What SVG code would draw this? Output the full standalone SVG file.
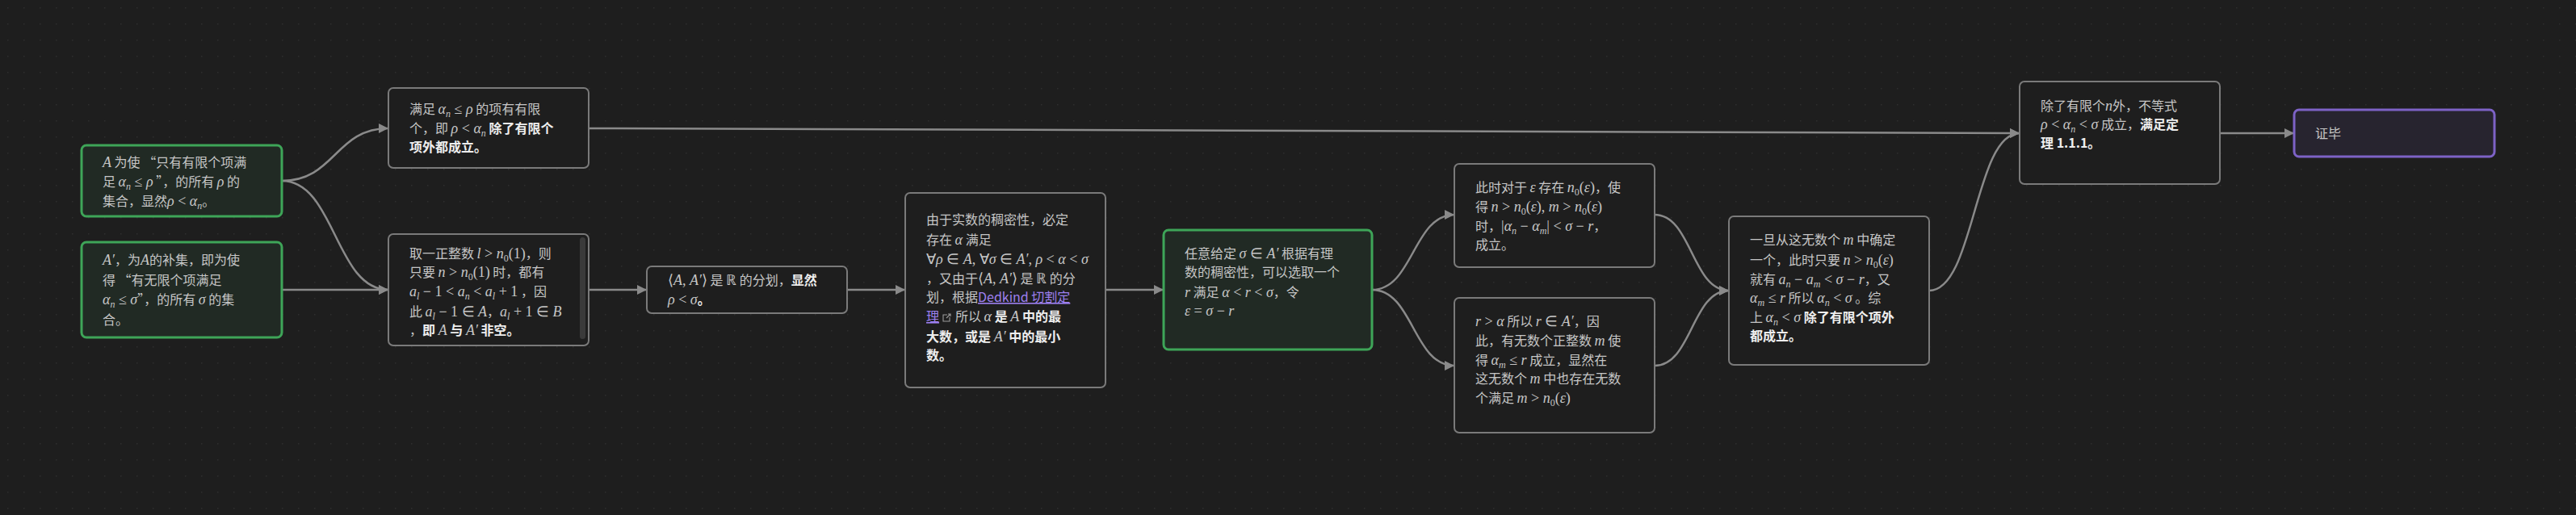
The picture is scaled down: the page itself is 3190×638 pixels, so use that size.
<svg xmlns="http://www.w3.org/2000/svg" width="3190" height="638" viewBox="0 0 3190 638">
<defs>
<pattern id="grid" width="20" height="20" patternUnits="userSpaceOnUse">
<rect x="9" y="9" width="1.5" height="1.5" fill="#2e2e2e"/>
</pattern>
<marker id="arr" viewBox="0 0 10 10" refX="10" refY="5" markerWidth="5" markerHeight="5" orient="auto" markerUnits="strokeWidth">
<path d="M0,0 L10,5 L0,10 z" fill="#8a8a8a"/>
</marker>
<style>
.bg{fill:#1e1e1e}
.n{fill:#1e1e1e;stroke:#7a7a7a;stroke-width:2}
.g{fill:#212a24;stroke:#3ea558;stroke-width:3}
.p{fill:#27242f;stroke:#7d62c6;stroke-width:3}
.e{fill:none;stroke:#8a8a8a;stroke-width:2.5;marker-end:url(#arr)}
.t{font-family:"Noto Sans CJK SC","Noto Sans",sans-serif;font-size:16px;fill:#c6c6c6}
.b{font-weight:bold;fill:#eeeeee}
.m{font-family:"Liberation Serif",serif;font-style:italic;font-size:18px}
.r{font-family:"Liberation Serif",serif;font-style:normal;font-size:18px}
.s{font-family:"Liberation Serif",serif;font-style:italic;font-size:12px}
.s0{font-family:"Liberation Serif",serif;font-style:normal;font-size:12px}
.lk{fill:#9d80f0;text-decoration:underline}
</style>
</defs>
<rect class="bg" x="0" y="0" width="3190" height="638"/>
<rect x="0" y="0" width="3190" height="638" fill="url(#grid)"/>

<g id="connectors">
<path class="e" d="M349,224 C415,224 415,159 481,159"/>
<path class="e" d="M349,224 C415,224 415,359 481,359"/>
<path class="e" d="M349,359 L481,359"/>
<path class="e" d="M729,159 C1615,159 1615,165 2501,165"/>
<path class="e" d="M729,359 L801,359"/>
<path class="e" d="M1049,359 L1121,359"/>
<path class="e" d="M1369,359 L1441,359"/>
<path class="e" d="M1699,359 C1750,359 1750,266 1801,266"/>
<path class="e" d="M1699,359 C1750,359 1750,453 1801,453"/>
<path class="e" d="M2049,266 C2095,266 2095,360 2141,360"/>
<path class="e" d="M2049,453 C2095,453 2095,360 2141,360"/>
<path class="e" d="M2389,360 C2445,360 2445,165 2501,165"/>
<path class="e" d="M2749,165 L2841,165"/>
</g>

<g id="n1">
<rect class="g" x="101" y="180" width="248" height="88" rx="6"/>
<text class="t" x="127" y="207"><tspan class="m">A</tspan> 为使 “只有有限个项满</text>
<text class="t" x="127" y="231">足 <tspan class="m">α</tspan><tspan class="s" dy="4">n</tspan><tspan class="r" dy="-4"> ≤ </tspan><tspan class="m">ρ</tspan> ”，的所有 <tspan class="m">ρ</tspan> 的</text>
<text class="t" x="127" y="255">集合，显然<tspan class="m">ρ</tspan><tspan class="r"> &lt; </tspan><tspan class="m">α</tspan><tspan class="s" dy="4">n</tspan><tspan dy="-4">。</tspan></text>
</g>

<g id="n2">
<rect class="g" x="101" y="300" width="248" height="118" rx="6"/>
<text class="t" x="127" y="328"><tspan class="m">A′</tspan>，为<tspan class="m">A</tspan>的补集，即为使</text>
<text class="t" x="127" y="353">得 “有无限个项满足</text>
<text class="t" x="127" y="377"><tspan class="m">α</tspan><tspan class="s" dy="4">n</tspan><tspan class="r" dy="-4"> ≤ </tspan><tspan class="m">σ</tspan>”，的所有 <tspan class="m">σ</tspan> 的集</text>
<text class="t" x="127" y="402">合。</text>
</g>

<g id="n3">
<rect class="n" x="481" y="109" width="248" height="99" rx="6"/>
<text class="t" x="507" y="141">满足 <tspan class="m">α</tspan><tspan class="s" dy="4">n</tspan><tspan class="r" dy="-4"> ≤ </tspan><tspan class="m">ρ</tspan> 的项有有限</text>
<text class="t" x="507" y="165">个，即 <tspan class="m">ρ</tspan><tspan class="r"> &lt; </tspan><tspan class="m">α</tspan><tspan class="s" dy="4">n</tspan><tspan class="b" dy="-4"> 除了有限个</tspan></text>
<text class="t b" x="507" y="188">项外都成立。</text>
</g>

<g id="n4">
<rect class="n" x="481" y="290" width="248" height="138" rx="6"/>
<rect x="718" y="294" width="7" height="126" rx="3.5" fill="#3a3a3a"/>
<text class="t" x="507" y="320">取一正整数 <tspan class="m">l</tspan><tspan class="r"> &gt; </tspan><tspan class="m">n</tspan><tspan class="s0" dy="4">0</tspan><tspan class="r" dy="-4">(1)</tspan>，则</text>
<text class="t" x="507" y="343">只要 <tspan class="m">n</tspan><tspan class="r"> &gt; </tspan><tspan class="m">n</tspan><tspan class="s0" dy="4">0</tspan><tspan class="r" dy="-4">(1)</tspan> 时，都有</text>
<text class="t" x="507" y="367"><tspan class="m">a</tspan><tspan class="s" dy="4">l</tspan><tspan class="r" dy="-4"> − 1 &lt; </tspan><tspan class="m">a</tspan><tspan class="s" dy="4">n</tspan><tspan class="r" dy="-4"> &lt; </tspan><tspan class="m">a</tspan><tspan class="s" dy="4">l</tspan><tspan class="r" dy="-4"> + 1</tspan> ，因</text>
<text class="t" x="507" y="392">此 <tspan class="m">a</tspan><tspan class="s" dy="4">l</tspan><tspan class="r" dy="-4"> − 1 ∈ </tspan><tspan class="m">A</tspan>，<tspan class="m">a</tspan><tspan class="s" dy="4">l</tspan><tspan class="r" dy="-4"> + 1 ∈ </tspan><tspan class="m">B</tspan></text>
<text class="t" x="507" y="415">，<tspan class="b">即 </tspan><tspan class="m">A</tspan><tspan class="b"> 与 </tspan><tspan class="m">A′</tspan><tspan class="b"> 非空。</tspan></text>
</g>

<g id="n5">
<rect class="n" x="801" y="330" width="248" height="58" rx="6"/>
<text class="t" x="827" y="353"><tspan class="r">⟨</tspan><tspan class="m">A</tspan><tspan class="r">, </tspan><tspan class="m">A′</tspan><tspan class="r">⟩</tspan> 是 <tspan class="r">ℝ</tspan> 的分划，<tspan class="b">显然</tspan></text>
<text class="t" x="827" y="377"><tspan class="m">ρ</tspan><tspan class="r"> &lt; </tspan><tspan class="m">σ</tspan><tspan class="b">。</tspan></text>
</g>

<g id="n6">
<rect class="n" x="1121" y="239" width="248" height="241" rx="6"/>
<text class="t" x="1147" y="278">由于实数的稠密性，必定</text>
<text class="t" x="1147" y="303">存在 <tspan class="m">α</tspan> 满足</text>
<text class="t" x="1147" y="327"><tspan class="r">∀</tspan><tspan class="m">ρ</tspan><tspan class="r"> ∈ </tspan><tspan class="m">A</tspan><tspan class="r">, ∀</tspan><tspan class="m">σ</tspan><tspan class="r"> ∈ </tspan><tspan class="m">A′</tspan><tspan class="r">, </tspan><tspan class="m">ρ</tspan><tspan class="r"> &lt; </tspan><tspan class="m">α</tspan><tspan class="r"> &lt; </tspan><tspan class="m">σ</tspan></text>
<text class="t" x="1147" y="351">，又由于<tspan class="r">⟨</tspan><tspan class="m">A</tspan><tspan class="r">, </tspan><tspan class="m">A′</tspan><tspan class="r">⟩</tspan> 是 <tspan class="r">ℝ</tspan> 的分</text>
<text class="t" x="1147" y="374">划，根据<tspan class="lk">Dedkind 切割定</tspan></text>
<text class="t lk" x="1147" y="398">理</text>
<path d="M1173,390 h-5 v8 h8 v-5 M1172,394 l5,-5 M1174,389 h3 v3" fill="none" stroke="#9a9a9a" stroke-width="1.1"/>
<text class="t" x="1183" y="398">所以 <tspan class="m">α</tspan><tspan class="b"> 是 </tspan><tspan class="m">A</tspan><tspan class="b"> 中的最</tspan></text>
<text class="t" x="1147" y="423"><tspan class="b">大数，或是 </tspan><tspan class="m">A′</tspan><tspan class="b"> 中的最小</tspan></text>
<text class="t b" x="1147" y="446">数。</text>
</g>

<g id="n7">
<rect class="g" x="1441" y="285" width="258" height="148" rx="6"/>
<text class="t" x="1467" y="320">任意给定 <tspan class="m">σ</tspan><tspan class="r"> ∈ </tspan><tspan class="m">A′</tspan> 根据有理</text>
<text class="t" x="1467" y="343">数的稠密性，可以选取一个</text>
<text class="t" x="1467" y="368"><tspan class="m">r</tspan> 满足 <tspan class="m">α</tspan><tspan class="r"> &lt; </tspan><tspan class="m">r</tspan><tspan class="r"> &lt; </tspan><tspan class="m">σ</tspan>，令</text>
<text class="t" x="1467" y="391"><tspan class="m">ε</tspan><tspan class="r"> = </tspan><tspan class="m">σ</tspan><tspan class="r"> − </tspan><tspan class="m">r</tspan></text>
</g>

<g id="n8">
<rect class="n" x="1801" y="203" width="248" height="128" rx="6"/>
<text class="t" x="1827" y="238">此时对于 <tspan class="m">ε</tspan> 存在 <tspan class="m">n</tspan><tspan class="s0" dy="4">0</tspan><tspan class="r" dy="-4">(</tspan><tspan class="m">ε</tspan><tspan class="r">)</tspan>，使</text>
<text class="t" x="1827" y="262">得 <tspan class="m">n</tspan><tspan class="r"> &gt; </tspan><tspan class="m">n</tspan><tspan class="s0" dy="4">0</tspan><tspan class="r" dy="-4">(</tspan><tspan class="m">ε</tspan><tspan class="r">), </tspan><tspan class="m">m</tspan><tspan class="r"> &gt; </tspan><tspan class="m">n</tspan><tspan class="s0" dy="4">0</tspan><tspan class="r" dy="-4">(</tspan><tspan class="m">ε</tspan><tspan class="r">)</tspan></text>
<text class="t" x="1827" y="286">时，<tspan class="r">|</tspan><tspan class="m">α</tspan><tspan class="s" dy="4">n</tspan><tspan class="r" dy="-4"> − </tspan><tspan class="m">α</tspan><tspan class="s" dy="4">m</tspan><tspan class="r" dy="-4">| &lt; </tspan><tspan class="m">σ</tspan><tspan class="r"> − </tspan><tspan class="m">r</tspan>，</text>
<text class="t" x="1827" y="309">成立。</text>
</g>

<g id="n9">
<rect class="n" x="1801" y="369" width="248" height="167" rx="6"/>
<text class="t" x="1827" y="404"><tspan class="m">r</tspan><tspan class="r"> &gt; </tspan><tspan class="m">α</tspan> 所以 <tspan class="m">r</tspan><tspan class="r"> ∈ </tspan><tspan class="m">A′</tspan>，因</text>
<text class="t" x="1827" y="428">此，有无数个正整数 <tspan class="m">m</tspan> 使</text>
<text class="t" x="1827" y="452">得 <tspan class="m">α</tspan><tspan class="s" dy="4">m</tspan><tspan class="r" dy="-4"> ≤ </tspan><tspan class="m">r</tspan> 成立，显然在</text>
<text class="t" x="1827" y="475">这无数个 <tspan class="m">m</tspan> 中也存在无数</text>
<text class="t" x="1827" y="499">个满足 <tspan class="m">m</tspan><tspan class="r"> &gt; </tspan><tspan class="m">n</tspan><tspan class="s0" dy="4">0</tspan><tspan class="r" dy="-4">(</tspan><tspan class="m">ε</tspan><tspan class="r">)</tspan></text>
</g>

<g id="n10">
<rect class="n" x="2141" y="268" width="248" height="184" rx="6"/>
<text class="t" x="2167" y="303">一旦从这无数个 <tspan class="m">m</tspan> 中确定</text>
<text class="t" x="2167" y="328">一个，此时只要 <tspan class="m">n</tspan><tspan class="r"> &gt; </tspan><tspan class="m">n</tspan><tspan class="s0" dy="4">0</tspan><tspan class="r" dy="-4">(</tspan><tspan class="m">ε</tspan><tspan class="r">)</tspan></text>
<text class="t" x="2167" y="352">就有 <tspan class="m">a</tspan><tspan class="s" dy="4">n</tspan><tspan class="r" dy="-4"> − </tspan><tspan class="m">a</tspan><tspan class="s" dy="4">m</tspan><tspan class="r" dy="-4"> &lt; </tspan><tspan class="m">σ</tspan><tspan class="r"> − </tspan><tspan class="m">r</tspan>，又</text>
<text class="t" x="2167" y="375"><tspan class="m">α</tspan><tspan class="s" dy="4">m</tspan><tspan class="r" dy="-4"> ≤ </tspan><tspan class="m">r</tspan> 所以 <tspan class="m">α</tspan><tspan class="s" dy="4">n</tspan><tspan class="r" dy="-4"> &lt; </tspan><tspan class="m">σ</tspan> 。综</text>
<text class="t" x="2167" y="399">上 <tspan class="m">α</tspan><tspan class="s" dy="4">n</tspan><tspan class="r" dy="-4"> &lt; </tspan><tspan class="m">σ</tspan><tspan class="b"> 除了有限个项外</tspan></text>
<text class="t b" x="2167" y="422">都成立。</text>
</g>

<g id="n11">
<rect class="n" x="2501" y="101" width="248" height="127" rx="6"/>
<text class="t" x="2527" y="137">除了有限个<tspan class="m">n</tspan>外，不等式</text>
<text class="t" x="2527" y="160"><tspan class="m">ρ</tspan><tspan class="r"> &lt; </tspan><tspan class="m">α</tspan><tspan class="s" dy="4">n</tspan><tspan class="r" dy="-4"> &lt; </tspan><tspan class="m">σ</tspan> 成立，<tspan class="b">满足定</tspan></text>
<text class="t b" x="2527" y="183">理 1.1.1。</text>
</g>

<g id="n12">
<rect class="p" x="2841" y="136" width="248" height="58" rx="6"/>
<text class="t" x="2867" y="171">证毕</text>
</g>
</svg>
